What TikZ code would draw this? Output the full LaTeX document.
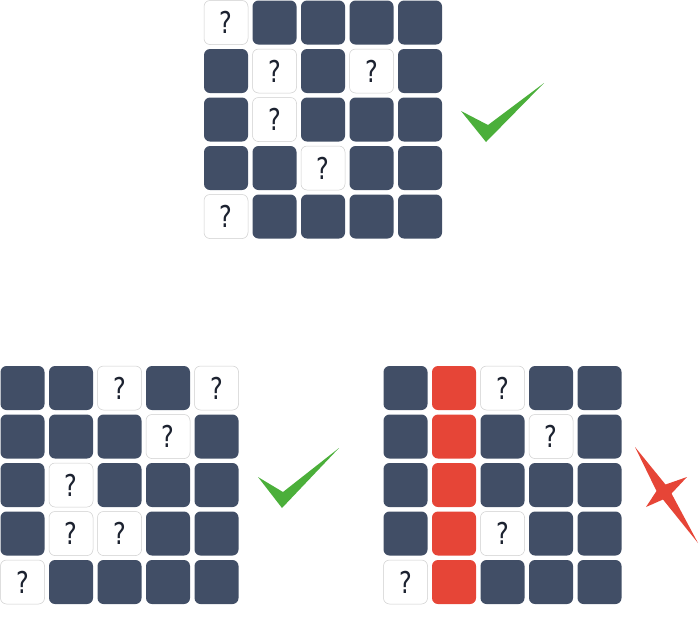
\documentclass[tikz,border=0pt]{standalone}
\usepackage{fontspec}
\setmainfont{DejaVu Sans}
\usepackage{xcolor}
\definecolor{slate}{HTML}{414E66}
\definecolor{alert}{HTML}{E64537}
\definecolor{okgreen}{HTML}{4BAF3A}
\definecolor{ink}{HTML}{1C2230}
\definecolor{rim}{HTML}{CDCDCD}
\newcommand{\qmark}{\scalebox{0.8}[1]{?}}

\begin{document}
\begin{tikzpicture}[x=1pt,y=-1pt,
  box/.style={rounded corners=6pt,minimum size=44pt,inner sep=0pt,
              font=\fontsize{30}{30}\selectfont,text=ink},
  boxd/.style={box,fill=slate},
  boxr/.style={box,fill=alert},
  boxq/.style={box,fill=white,draw=rim,line width=0.5pt}]
\useasboundingbox (0,0) rectangle (699,630);

% top grid: accepted
\foreach \row [count=\r] in {{q,d,d,d,d},{d,q,d,q,d},{d,q,d,d,d},{d,d,q,d,d},{q,d,d,d,d}}
  \foreach \s [count=\c] in \row
    \node[box\s] (a-\r-\c) at ({226+(\c-1)*48.5},{22.5+(\r-1)*48.5}) {\if q\s\qmark\fi};

% bottom left grid: accepted
\foreach \row [count=\r] in {{d,d,q,d,q},{d,d,d,q,d},{d,q,d,d,d},{d,q,q,d,d},{q,d,d,d,d}}
  \foreach \s [count=\c] in \row
    \node[box\s] (b-\r-\c) at ({22.5+(\c-1)*48.5},{388+(\r-1)*48.5}) {\if q\s\qmark\fi};

% bottom right grid: rejected, full red column
\foreach \row [count=\r] in {{d,r,q,d,d},{d,r,d,q,d},{d,r,d,d,d},{d,r,q,d,d},{q,r,d,d,d}}
  \foreach \s [count=\c] in \row
    \node[box\s] (c-\r-\c) at ({405.5+(\c-1)*48.5},{388+(\r-1)*48.5}) {\if q\s\qmark\fi};

% marks
\fill[okgreen] (461,111) -- (486,142) -- (544,83) -- (488,125) -- cycle;
\fill[okgreen] (258,477) -- (282,508) -- (339,448) -- (283,492) -- cycle;
\fill[alert] (635,447) -- (665.5,484.5) -- (687,477) -- (671.5,493.5)
  -- (698,543) -- (663,499.5) -- (646,507) -- (656.5,491) -- cycle;
\end{tikzpicture}
\end{document}
